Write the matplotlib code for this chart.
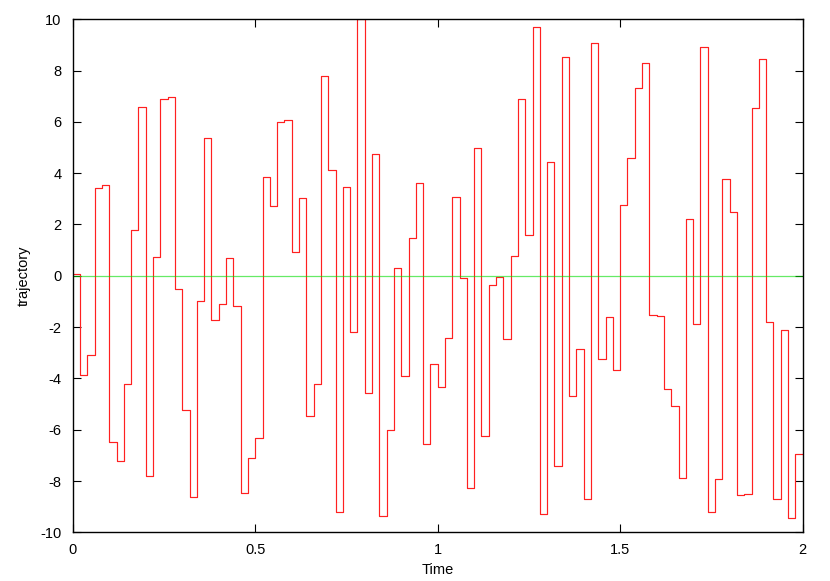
import numpy as np
import matplotlib
matplotlib.use("Agg")
import matplotlib.pyplot as plt

plt.rcParams['font.family'] = ['Liberation Sans', 'DejaVu Sans']
plt.rcParams['axes.unicode_minus'] = False

# step values, one every 0.02 time units
dt = 0.02
values = [
    0.07, -3.88, -3.10, 3.42, 3.55, -6.49, -7.21, -4.21, 1.80, 6.58,
    -7.79, 0.72, 6.89, 6.96, -0.52, -5.22, -8.61, -0.97, 5.39, -1.72,
    -1.10, 0.69, -1.17, -8.46, -7.12, -6.33, 3.86, 2.74, 5.98, 6.07,
    0.91, 3.04, -5.47, -4.21, 7.80, 4.12, -9.19, 3.45, -2.19, 10.0,
    -4.57, 4.73, -9.36, -6.01, 0.29, -3.89, 1.49, 3.62, -6.56, -3.45,
    -4.33, -2.44, 3.07, -0.10, -8.29, 5.00, -6.23, -0.35, -0.06, -2.45,
    0.78, 6.89, 1.61, 9.68, -9.30, 4.43, -7.40, 8.52, -4.70, -2.84,
    -8.72, 9.08, -3.23, -1.62, -3.68, 2.77, 4.59, 7.34, 8.29, -1.51,
    -1.56, -4.43, -5.08, -7.89, 2.22, -1.89, 8.91, -9.20, -7.93, 3.78,
    2.49, -8.55, -8.49, 6.55, 8.44, -1.79, -8.71, -2.12, -9.44, -6.95,
]
xticks = [0, 0.5, 1, 1.5, 2]
xtick_labels = ['0', '0.5', '1', '1.5', '2']
yticks = list(range(-10, 11, 2))

t = np.arange(len(values) + 1) * dt
y = np.append(values, values[-1])

fig = plt.figure(figsize=(8.3, 5.81), dpi=100)
ax = fig.add_axes([0.0876, 0.0838, 0.9671 - 0.0876, 0.9668 - 0.0838])

ax.step(t, y, where='post', color='#ff2020', linewidth=0.85)
ax.axhline(0, color='#00dd00', linewidth=0.9, alpha=0.6)

ax.set_xlim(0, 2)
ax.set_ylim(-10, 10)
ax.set_xticks(xticks)
ax.set_xticklabels(xtick_labels)
ax.set_yticks(yticks)
ax.tick_params(direction='in', top=True, right=True, length=6, width=0.8,
               labelsize=10.5, pad=8)
for s in ax.spines.values():
    s.set_linewidth(1.0)

ax.set_xlabel('Time', fontsize=10.5, labelpad=4)
ax.set_ylabel('trajectory', fontsize=10.5, labelpad=7)

fig.savefig('out.png', dpi=100)
